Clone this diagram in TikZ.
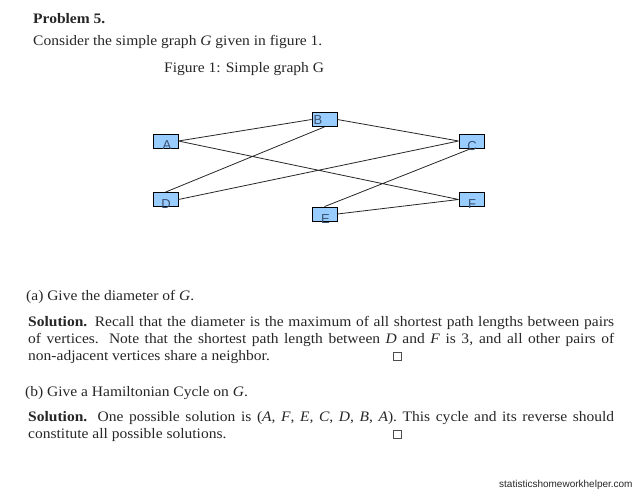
\documentclass[tikz,border=0pt]{standalone}
\usepackage{fontspec}
\setmainfont[FakeStretch=1.07]{Liberation Serif}
\newfontfamily\labelfont{Liberation Sans}
\usepackage{tikz}
\definecolor{boxblue}{HTML}{99CCFF}
\definecolor{labelgrey}{HTML}{3A5272}
\tikzset{every label/.style={font=\labelfont\fontsize{13}{13}\selectfont,text=labelgrey,inner sep=0pt}}
\tikzset{txt/.style={anchor=base west,inner sep=0pt,font=\fontsize{14.5}{15}\selectfont,text=black!85}}
\tikzset{qedbox/.style={draw=black!70,line width=0.5pt,inner sep=0pt,minimum width=8pt,minimum height=8pt}}
\tikzset{edge/.style={line width=0.8pt,black!85}}
\newcommand{\vertexpt}[5][]{\node[rectangle,draw,fill=boxblue,line width=0.8pt,inner sep=0pt,minimum width=25pt,minimum height=14pt,label={[#5]center:#4},#1] at (#2) (#3) {}}
\newcommand{\fullline}[1]{\makebox[586pt][s]{#1}}

\begin{document}
\begin{tikzpicture}[x=1pt,y=-1pt]
		\useasboundingbox (0,0) rectangle (638,493);
		\vertexpt{165.5, 141}{A}{A}{xshift=1.5pt,yshift=-4pt};
		\vertexpt{324.5, 119.5}{B}{B}{xshift=-6.5pt,yshift=-0.5pt};
		\vertexpt{471.5, 141}{C}{C}{xshift=0.5pt,yshift=-5pt};
		\vertexpt{165.5, 199.5}{D}{D}{xshift=0.5pt,yshift=-4.5pt};
		\vertexpt{324.5, 214}{E}{E}{xshift=1pt,yshift=-5pt};
		\vertexpt{471.5, 199.5}{F}{F}{xshift=0.5pt,yshift=-4.5pt};
		
		\draw[edge] (A.east) -- (B.west)
		(A.east) -- (F.west)
		(B.east) -- (C.west)
		(B.south) -- (D.north)
		(C.west) -- (D.east)
		(C.south) -- (E.north)
		(E.east) -- (F.west);
		
		\node[txt] (title) at (33,23) {\textbf{Problem 5.}};
		\node[txt] (intro) at (33,45) {Consider the simple graph \textit{G} given in figure 1.};
		\node[txt] (caption) at (164,72) {Figure 1: Simple graph G};
		\node[txt] (parta) at (26,300) {(a) Give the diameter of \textit{G}.};
		\node[txt] (sola1) at (28,326) {\fullline{\textbf{Solution.} Recall that the diameter is the maximum of all shortest path lengths between pairs}};
		\node[txt] (sola2) at (28,343) {\fullline{of vertices. Note that the shortest path length between \textit{D} and \textit{F} is 3, and all other pairs of}};
		\node[txt] (sola3) at (28,360) {non-adjacent vertices share a neighbor.};
		\node[qedbox] (qeda) at (397.5,356) {};
		\node[txt] (partb) at (25,396) {(b) Give a Hamiltonian Cycle on \textit{G}.};
		\node[txt] (solb1) at (28,421) {\fullline{\textbf{Solution.} One possible solution is (\textit{A}, \textit{F}, \textit{E}, \textit{C}, \textit{D}, \textit{B}, \textit{A}). This cycle and its reverse should}};
		\node[txt] (solb2) at (28,438) {constitute all possible solutions.};
		\node[qedbox] (qedb) at (397.5,434) {};
		\node[txt,font=\labelfont\fontsize{10}{11}\selectfont] (mark) at (499,487) {statisticshomeworkhelper.com};
	\end{tikzpicture}
\end{document}
